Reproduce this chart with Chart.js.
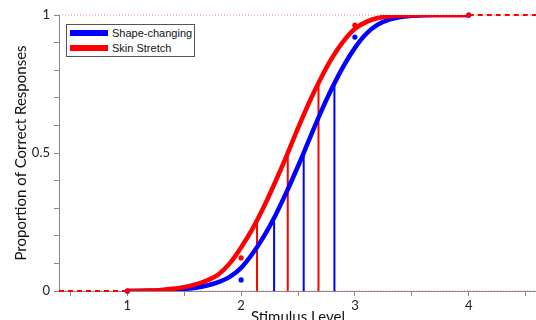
<!DOCTYPE html>
<html>
<head>
<meta charset="utf-8">
<script src="https://cdn.jsdelivr.net/npm/chart.js@4.4.1/dist/chart.umd.min.js"></script>
<style>
  html, body { margin: 0; padding: 0; background: #fff; overflow: hidden; }
  .wrap { position: relative; width: 536px; height: 320px; overflow: hidden; }
  #chart { position: absolute; left: 0; top: 0; }
  .legend {
    position: absolute; left: 66px; top: 24px; width: 129px; height: 33px;
    border: 1px solid #555; background: #fff; box-sizing: border-box;
    font-family: "Liberation Sans", Arial, sans-serif; font-size: 11px; color: #111;
  }
  .legend .row { position: absolute; left: 3px; height: 14px; line-height: 14px; white-space: nowrap; }
  .legend .sw { display: inline-block; width: 38px; height: 6px; vertical-align: middle; margin-right: 4px; margin-top: -2px; }
</style>
</head>
<body>
<div class="wrap">
  <canvas id="chart" width="541" height="340"></canvas>
  <div class="legend" id="legend"></div>
</div>
<script>
// psychometric fits
const curveX = [1.0, 1.1, 1.2, 1.3, 1.4, 1.5, 1.6, 1.7, 1.8, 1.9,
                2.0, 2.1, 2.2, 2.3, 2.4, 2.5, 2.6, 2.7, 2.8, 2.9,
                3.0, 3.1, 3.2, 3.3, 3.4, 3.5, 3.6, 3.7, 3.8, 3.9, 4.0];
const shapeCurve = [0, 0, 0.001, 0.002, 0.004, 0.007, 0.012, 0.02, 0.032, 0.051,
                    0.084, 0.135, 0.198, 0.273, 0.359, 0.452, 0.55, 0.647, 0.736, 0.815,
                    0.881, 0.932, 0.965, 0.983, 0.993, 0.997, 0.999, 1, 1, 1, 1];
const stretchCurve = [0, 0.001, 0.002, 0.004, 0.008, 0.014, 0.024, 0.038, 0.06, 0.1,
                      0.158, 0.225, 0.305, 0.395, 0.49, 0.59, 0.685, 0.77, 0.845, 0.905,
                      0.95, 0.975, 0.989, 0.995, 0.998, 0.999, 1, 1, 1, 1, 1];

// measured proportions
const levels = [1, 2, 3, 4];
const shapeObserved = [0, 0.04, 0.92, 1];
const stretchObserved = [0, 0.12, 0.963, 1];

// thresholds at 25/50/75 %
const thresholdLevels = [0.25, 0.5, 0.75];
const shapeThresholds = [2.29, 2.55, 2.82];
const stretchThresholds = [2.14, 2.41, 2.68];

const lowExtX = [0.4, 1];
const highExtX = [4, 4.6];

const seriesNames = ["Shape-changing", "Skin Stretch"];
const BLUE = "#0000ff";
const RED = "#ff0000";

function pts(xs, ys) {
  return xs.map((x, i) => ({ x: x, y: ys[i] }));
}

function isWhole(v) {
  return Math.abs(v - Math.round(v)) < 1e-6;
}

const datasets = [];

// curves (red on top)
datasets.push({ label: seriesNames[1], data: pts(curveX, stretchCurve), borderColor: RED,
  borderWidth: 4.5, pointRadius: 0, tension: 0.4, cubicInterpolationMode: "monotone", order: 1 });
datasets.push({ label: seriesNames[0], data: pts(curveX, shapeCurve), borderColor: BLUE,
  borderWidth: 4.5, pointRadius: 0, tension: 0.4, cubicInterpolationMode: "monotone", order: 3 });

// dashed extensions (the blue ones sit under the red)
datasets.push({ data: pts(lowExtX, [0, 0]), borderColor: RED, borderWidth: 2,
  borderDash: [5, 4], pointRadius: 0, order: 2, clip: false });
datasets.push({ data: pts(highExtX, [1, 1]), borderColor: RED, borderWidth: 2,
  borderDash: [5, 4], pointRadius: 0, order: 2, clip: false });

// threshold verticals
thresholdLevels.forEach((lv, i) => {
  datasets.push({ data: pts([stretchThresholds[i], stretchThresholds[i]], [0, lv]),
    borderColor: RED, borderWidth: 2, pointRadius: 0, order: 5 });
  datasets.push({ data: pts([shapeThresholds[i], shapeThresholds[i]], [0, lv]),
    borderColor: BLUE, borderWidth: 2, pointRadius: 0, order: 5 });
});

// observed points
datasets.push({ data: pts(levels, stretchObserved), showLine: false, pointRadius: 2.6,
  pointBackgroundColor: RED, pointBorderWidth: 0, clip: false, order: 0 });
datasets.push({ data: pts(levels, shapeObserved), showLine: false, pointRadius: 2.6,
  pointBackgroundColor: BLUE, pointBorderWidth: 0, clip: false, order: 0 });

// faint reference lines at 0 and 1
[0, 1].forEach((v) => {
  datasets.push({ data: pts([lowExtX[0], highExtX[1]], [v, v]), borderColor: "rgba(230,90,90,0.7)",
    borderWidth: 1, borderDash: [1, 2], pointRadius: 0, order: 9, clip: false });
});

const axisGrey = "#888";
const tickFont = { family: "Lato, 'Open Sans', sans-serif", size: 13 };

new Chart(document.getElementById("chart"), {
  type: "line",
  data: { datasets: datasets },
  options: {
    responsive: false,
    animation: false,
    events: [],
    layout: { padding: { top: 15, right: 1, bottom: 0, left: 0 } },
    plugins: { legend: { display: false }, tooltip: { enabled: false } },
    scales: {
      x: {
        type: "linear",
        min: 0.4,
        max: 4.6,
        afterFit: (s) => { s.height = 49; },
        border: { display: true, color: axisGrey, width: 1 },
        grid: { display: true, drawOnChartArea: false, drawTicks: true, tickLength: 5, color: axisGrey },
        ticks: {
          stepSize: 0.5,
          includeBounds: false,
          autoSkip: false,
          maxRotation: 0,
          padding: 2,
          color: "#222",
          font: tickFont,
          callback: (v) => (isWhole(v) ? String(Math.round(v)) : ""),
        },
        title: {
          display: true,
          text: "Stimulus Level",
          color: "#111",
          font: { family: "Lato, 'Open Sans', sans-serif", size: 15 },
          padding: { top: 0, bottom: 14 },
        },
      },
      y: {
        type: "linear",
        min: 0,
        max: 1,
        afterFit: (s) => { s.width = 59; },
        border: { display: true, color: axisGrey, width: 1 },
        grid: { display: true, drawOnChartArea: false, drawTicks: true, tickLength: 5, color: axisGrey },
        ticks: {
          stepSize: 0.1,
          autoSkip: false,
          padding: 4,
          color: "#222",
          font: tickFont,
          callback: (v) => (isWhole(v * 2) ? String(Math.round(v * 2) / 2) : ""),
        },
        title: {
          display: true,
          text: "Proportion of Correct Responses",
          color: "#111",
          font: { family: "Lato, 'Open Sans', sans-serif", size: 15 },
          padding: { top: 12, bottom: 0 },
        },
      },
    },
  },
});

// legend box
const legendColors = [BLUE, RED];
const legendEl = document.getElementById("legend");
seriesNames.forEach((name, i) => {
  const row = document.createElement("div");
  row.className = "row";
  row.style.top = (1 + i * 15) + "px";
  row.innerHTML = '<span class="sw" style="background:' + legendColors[i] + '"></span>' + name;
  legendEl.appendChild(row);
});
</script>
</body>
</html>
